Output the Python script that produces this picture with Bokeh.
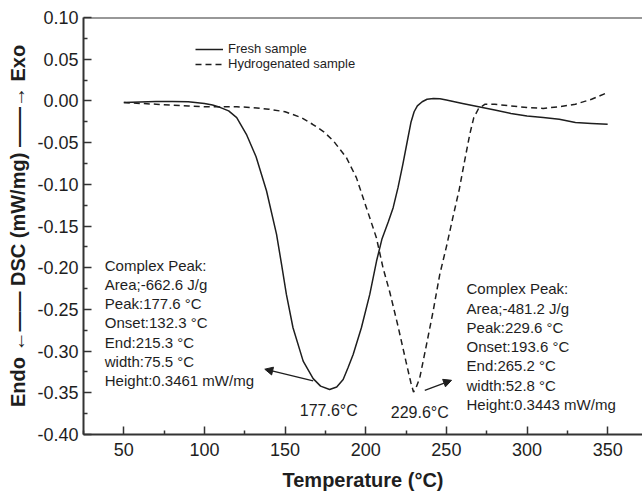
from bokeh.plotting import figure
from bokeh.models import (Range1d, FixedTicker, NumeralTickFormatter, Legend, LegendItem,
                          Label, Arrow, NormalHead, Span)
from bokeh.embed import file_html
from bokeh.resources import INLINE

# ---------------- data ----------------
fresh_T = [50, 60, 70, 80, 90, 100, 105, 110, 115, 120, 126, 132, 138.5, 144.7, 147.8,
           150.8, 154.9, 161.2, 167.4, 172, 177.6, 182, 186, 189, 192.2, 197.3, 202.5,
           206.7, 210, 214, 217, 220, 223, 226, 228, 230, 232, 235, 238, 242, 246, 250,
           260, 270, 280, 290, 300, 310, 320, 330, 340, 350]
fresh_dsc = [-0.002, -0.0012, -0.0008, -0.0008, -0.001, -0.003, -0.005, -0.008, -0.012,
             -0.020, -0.040, -0.067, -0.108, -0.160, -0.196, -0.232, -0.272, -0.312,
             -0.333, -0.342, -0.346, -0.343, -0.334, -0.320, -0.304, -0.272, -0.232,
             -0.192, -0.166, -0.145, -0.128, -0.104, -0.076, -0.046, -0.026, -0.013,
             -0.006, -0.001, 0.002, 0.003, 0.0025, 0.001, -0.003, -0.007, -0.011,
             -0.015, -0.018, -0.020, -0.022, -0.026, -0.027, -0.028]

hydro_T = [50, 60, 70, 80, 90, 100, 110, 120, 130, 140, 150, 160, 167, 174, 180, 188,
           194.2, 200.4, 206.6, 210.7, 215, 220, 225, 228, 229.6, 231, 233.5, 237.7,
           241.8, 245.9, 250, 254, 258, 261, 264.5, 267, 270, 274, 280, 290, 300, 310,
           320, 330, 340, 350]
hydro_dsc = [-0.002, -0.003, -0.004, -0.005, -0.006, -0.007, -0.007, -0.007, -0.008,
             -0.010, -0.013, -0.020, -0.028, -0.037, -0.048, -0.068, -0.092, -0.128,
             -0.164, -0.200, -0.230, -0.270, -0.313, -0.338, -0.349, -0.345, -0.332,
             -0.292, -0.252, -0.208, -0.175, -0.140, -0.106, -0.075, -0.040, -0.020,
             -0.009, -0.004, -0.004, -0.006, -0.008, -0.009, -0.007, -0.004, 0.002, 0.010]

series_names = ["Fresh sample", "Hydrogenated sample"]

x_ticks = [50, 100, 150, 200, 250, 300, 350]
x_minor = [25, 75, 125, 175, 225, 275, 325, 375]
y_ticks = [-0.40, -0.35, -0.30, -0.25, -0.20, -0.15, -0.10, -0.05, 0.00, 0.05, 0.10]
y_minor = [-0.375, -0.325, -0.275, -0.225, -0.175, -0.125, -0.075, -0.025, 0.025, 0.075]

left_note = ["Complex Peak:", "Area;-662.6 J/g", "Peak:177.6 \u00b0C", "Onset:132.3 \u00b0C",
             "End:215.3 \u00b0C", "width:75.5 \u00b0C", "Height:0.3461 mW/mg"]
right_note = ["Complex Peak:", "Area;-481.2 J/g", "Peak:229.6 \u00b0C", "Onset:193.6 \u00b0C",
              "End:265.2 \u00b0C", "width:52.8 \u00b0C", "Height:0.3443 mW/mg"]
peak_T = [177.6, 229.6]
peak_labels = ["177.6\u00b0C", "229.6\u00b0C"]

# ---------------- figure ----------------
FONT = "Liberation Sans"
INK = "#1e1e1e"

p = figure(width=642, height=498, output_backend="svg", toolbar_location=None,
           x_range=Range1d(25, 371.6), y_range=Range1d(-0.40, 0.10),
           min_border_left=83, min_border_right=0, min_border_top=17, min_border_bottom=64)
p.outline_line_color = None
p.grid.visible = False
p.background_fill_color = "white"
p.border_fill_color = "white"

r1 = p.line(fresh_T, fresh_dsc, line_color=INK, line_width=1.5)
r2 = p.line(hydro_T, hydro_dsc, line_color=INK, line_width=1.5, line_dash="6 4")

for ax in (p.xaxis[0], p.yaxis[0]):
    ax.axis_line_color = "#333333"
    ax.axis_line_width = 2
    ax.major_tick_line_color = "#333333"
    ax.minor_tick_line_color = "#333333"
    ax.major_tick_line_width = 1.5
    ax.minor_tick_line_width = 1.5
    ax.major_tick_in = 8
    ax.major_tick_out = 0
    ax.minor_tick_in = 4
    ax.minor_tick_out = 0
    ax.major_label_text_font = FONT
    ax.major_label_text_font_size = "18px"
    ax.major_label_text_color = INK
    ax.axis_label_text_font = FONT
    ax.axis_label_text_font_size = "20px"
    ax.axis_label_text_font_style = "bold"
    ax.axis_label_text_color = INK

p.xaxis.ticker = FixedTicker(ticks=x_ticks, minor_ticks=x_minor)
p.yaxis.ticker = FixedTicker(ticks=y_ticks, minor_ticks=y_minor)
p.yaxis.formatter = NumeralTickFormatter(format="0.00")
p.xaxis.major_label_standoff = 8
p.yaxis.major_label_standoff = 5
p.xaxis.axis_label = "Temperature (\u00b0C)"
p.yaxis.axis_label = "Endo \u2190\u2014\u2014 DSC (mW/mg) \u2014\u2014\u2192 Exo"
p.xaxis.axis_label_standoff = 10
p.yaxis.axis_label_standoff = 5

# top frame line
p.add_layout(Span(location=0.10, dimension="width", line_color="#333333", line_width=2))

# legend
legend = Legend(items=[LegendItem(label=series_names[0], renderers=[r1]),
                       LegendItem(label=series_names[1], renderers=[r2])],
                location=(112, 363), padding=0, margin=0, spacing=0,
                border_line_color=None, background_fill_alpha=0,
                glyph_width=28, glyph_height=14, label_height=14, label_standoff=5,
                label_text_font=FONT, label_text_font_size="13px", label_text_color=INK)
p.add_layout(legend, "center")

# annotation blocks
for i, t in enumerate(left_note):
    p.add_layout(Label(x=38.2, y=-0.1971 - i * 0.02302, text=t, text_font=FONT,
                       text_font_size="15px", text_color=INK, text_baseline="alphabetic"))
for i, t in enumerate(right_note):
    p.add_layout(Label(x=262.5, y=-0.2253 - i * 0.02314, text=t, text_font=FONT,
                       text_font_size="15px", text_color=INK, text_baseline="alphabetic"))

# peak labels
p.add_layout(Label(x=peak_T[0] - 0.5, y=-0.3717, text=peak_labels[0], text_font=FONT,
                   text_font_size="16px", text_color=INK, text_align="center",
                   text_baseline="alphabetic"))
p.add_layout(Label(x=peak_T[1] + 3.9, y=-0.374, text=peak_labels[1], text_font=FONT,
                   text_font_size="16px", text_color=INK, text_align="center",
                   text_baseline="alphabetic"))

# arrows
p.add_layout(Arrow(end=NormalHead(size=8, fill_color=INK, line_color=INK),
                   x_start=167.4, y_start=-0.3357, x_end=137.4, y_end=-0.3217,
                   line_color=INK, line_width=1.3))
p.add_layout(Arrow(end=NormalHead(size=8, fill_color=INK, line_color=INK),
                   x_start=236.6, y_start=-0.347, x_end=253.2, y_end=-0.335,
                   line_color=INK, line_width=1.3))

open("out.html", "w").write(file_html(p, INLINE))
